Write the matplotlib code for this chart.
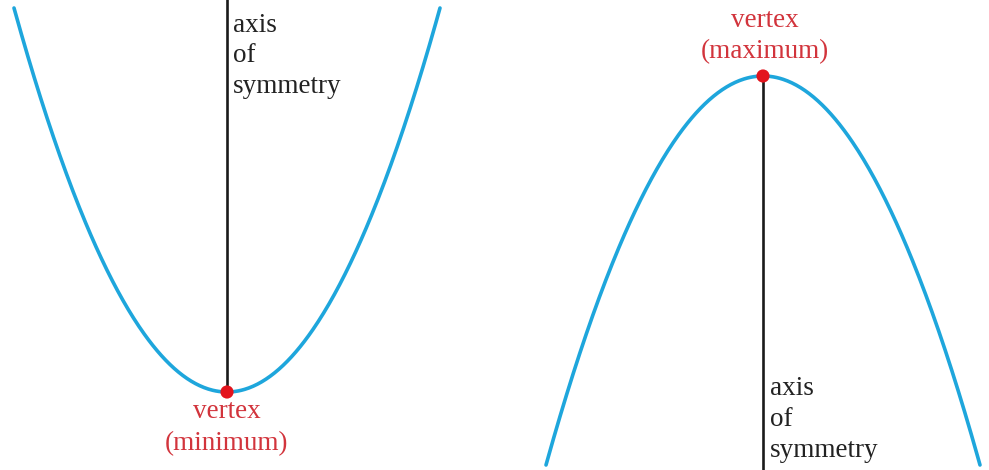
import matplotlib.pyplot as plt
import numpy as np

# parabola parameters in picture units (x right, y down)
vertex_x = [227, 763]
vertex_y = [392, 76]
half_width = [213, 217]
depth = [-384, 389]  # negative = opens upward on screen
axis_lines = ["axis", "of", "symmetry"]
vertex_labels = [["vertex", "(minimum)"], ["vertex", "(maximum)"]]

blue = "#1ea6dc"
red = "#e3141d"
label_red = "#d2343c"

plt.rcParams["font.family"] = ["Liberation Serif", "DejaVu Serif"]

fig = plt.figure(figsize=(9.89, 4.70), dpi=100)
ax = fig.add_axes([0, 0, 1, 1])
ax.set_xlim(0, 989)
ax.set_ylim(470, 0)
ax.axis("off")

for i in range(2):
    h, k, w, d = vertex_x[i], vertex_y[i], half_width[i], depth[i]
    x = np.linspace(h - w, h + w, 400)
    y = k + d * ((x - h) / w) ** 2
    ax.plot(x, y, color=blue, lw=2.6, solid_capstyle="round", zorder=2)

# axis of symmetry lines
ax.plot([vertex_x[0], vertex_x[0]], [0, vertex_y[0]], color="#1a1a1a", lw=1.9, zorder=1)
ax.plot([vertex_x[1], vertex_x[1]], [vertex_y[1], 470], color="#1a1a1a", lw=1.9, zorder=1)

# vertex dots
ax.scatter(vertex_x, vertex_y, s=90, color=red, zorder=3, edgecolors="none")

fs = 19.5
# axis of symmetry labels
for j, txt in enumerate(axis_lines):
    ax.text(233, 32 + j * 30.5, txt, fontsize=fs, color="#222222", ha="left", va="baseline")
    ax.text(770, 395 + j * 31, txt, fontsize=fs, color="#222222", ha="left", va="baseline")

# vertex labels
for j, txt in enumerate(vertex_labels[0]):
    ax.text(227, 418 + j * 32, txt, fontsize=fs, color=label_red, ha="center", va="baseline")
for j, txt in enumerate(vertex_labels[1]):
    ax.text(765, 27 + j * 31, txt, fontsize=fs, color=label_red, ha="center", va="baseline")

fig.savefig("out.png", dpi=100)
